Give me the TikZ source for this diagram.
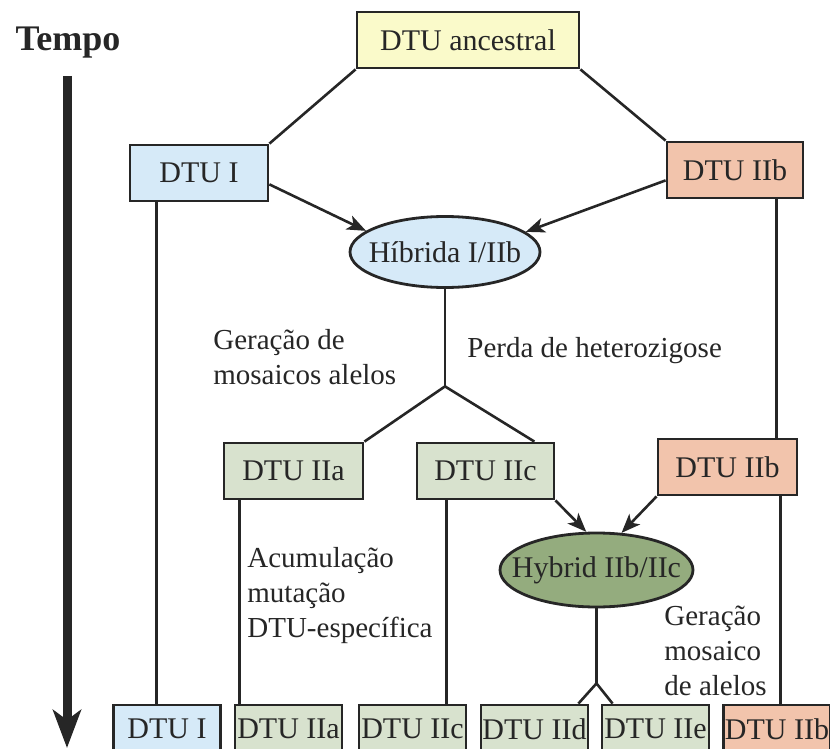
\documentclass[tikz,border=0pt]{standalone}
\usepackage{fontspec}
\setmainfont{Liberation Serif}
\usetikzlibrary{arrows.meta}
\usetikzlibrary{shapes.geometric}

\definecolor{ancyellow}{RGB}{250,250,202}
\definecolor{dtublue}{RGB}{214,234,248}
\definecolor{dtusalmon}{RGB}{242,196,172}
\definecolor{dtugreen}{RGB}{216,226,206}
\definecolor{hybgreen}{RGB}{148,172,126}
\definecolor{inkgray}{RGB}{38,38,38}

\tikzset{
  dtubox/.style={draw=inkgray, line width=1.4pt, inner sep=0pt, minimum height=28pt,
    text=inkgray, font=\fontsize{15}{18}\selectfont},
  hybnode/.style={ellipse, draw=inkgray, line width=1.4pt, inner ysep=0pt, inner xsep=-12pt,
    text=inkgray, font=\fontsize{15}{18}\selectfont},
  link/.style={draw=inkgray, line width=1.3pt},
  note/.style={align=left, inner sep=0pt, text=inkgray, font=\fontsize{14.5}{17.5}\selectfont},
}

\begin{document}
\begin{tikzpicture}[x=0.5pt, y=-0.5pt, >={Stealth[length=9.5pt, width=7.5pt, inset=2.5pt]}]
    \useasboundingbox (0,0) rectangle (830,749);

    % time axis
    \node[text=inkgray, font=\bfseries\fontsize{18}{20}\selectfont] (tempo) at (68,43) {Tempo};
    \coordinate (tStart) at (67,76);
    \coordinate (tEnd) at (67,748);
    \draw[inkgray, line width=4.5pt, -{Stealth[length=19pt, width=14pt, inset=5pt]}] (tStart) -- (tEnd);

    % first generation
    \node[dtubox, fill=ancyellow, minimum width=111pt] (anc) at (468,40) {DTU ancestral};
    \node[dtubox, fill=dtublue, minimum width=69pt] (dtuI) at (199,173) {DTU I};
    \node[dtubox, fill=dtusalmon, minimum width=68pt] (dtuIIb) at (735,170) {DTU IIb};
    \node[hybnode, fill=dtublue, minimum width=95pt, minimum height=35.5pt] (hib) at (445,252) {Híbrida I/IIb};

    % second generation
    \node[dtubox, fill=dtugreen, minimum width=69.5pt] (dtuIIa) at (293.5,471) {DTU IIa};
    \node[dtubox, fill=dtugreen, minimum width=68.5pt] (dtuIIc) at (485.5,471) {DTU IIc};
    \node[dtubox, fill=dtusalmon, minimum width=69.5pt] (dtuIIbm) at (727.5,467) {DTU IIb};
    \node[hybnode, fill=hybgreen, minimum width=96.5pt, minimum height=37pt] (hyb) at (596.5,570) {Hybrid IIb/IIc};

    % present-day DTUs
    \foreach \nm/\cx/\lab/\col in {endI/167/DTU I/dtublue, endIIa/288.5/DTU IIa/dtugreen,
        endIIc/412.5/DTU IIc/dtugreen, endIId/534.5/DTU IId/dtugreen,
        endIIe/655.5/DTU IIe/dtugreen, endIIb/777/DTU IIb/dtusalmon}
      \node[dtubox, fill=\col, minimum width=53.5pt, minimum height=24pt] (\nm) at (\cx,729) {\lab};

    % labels
    \node[note, anchor=west] (lblMos) at (213,357) {Geração de\\mosaicos alelos};
    \node[note, anchor=west] (lblPerda) at (467,351) {Perda de heterozigose};
    \node[note, anchor=west] (lblAcum) at (247,596) {Acumulação\\mutação\\DTU-específica};
    \node[note, anchor=west] (lblMosb) at (664,651) {Geração\\mosaico\\de alelos};

    % links
    \draw[link] (anc.south west) -- (dtuI.north east);
    \draw[link] (anc.south east) -- (dtuIIb.north west);
    \draw[link, ->] ([yshift=9pt]dtuI.south east) -- (hib.165);
    \draw[link, ->] ([yshift=9.5pt]dtuIIb.south west) -- (hib.14);

    \coordinate (split1) at ([yshift=-48.75pt]hib.south);
    \draw[link] (hib.south) -- (split1);
    \draw[link] (dtuIIa.north east) -- (split1) -- ([xshift=-10.5pt]dtuIIc.north east);

    \draw[link, ->] (dtuIIc.south east) -- (hyb.105);
    \draw[link, ->] (dtuIIbm.south west) -- (hyb.56);
    \coordinate (split2) at ([yshift=-37.5pt]hyb.south);
    \draw[link] (hyb.south) -- (split2);
    \draw[link] ([xshift=-5.5pt]endIId.north east) -- (split2) -- ([xshift=6pt]endIIe.north west);

    % lineages running down
    \coordinate (lineI) at ([xshift=14pt]dtuI.south west);
    \draw[link] (lineI) -- (lineI |- endI.north);
    \coordinate (lineIIa) at ([xshift=8.5pt]dtuIIa.south west);
    \draw[link] (lineIIa) -- (lineIIa |- endIIa.north);
    \coordinate (lineIIc) at ([xshift=15.5pt]dtuIIc.south west);
    \draw[link] (lineIIc) -- (lineIIc |- endIIc.north);
    \coordinate (lineIIb) at ([xshift=-14pt]dtuIIb.south east);
    \draw[link] (lineIIb) -- (lineIIb |- dtuIIbm.north);
    \coordinate (lineIIbm) at ([xshift=-9pt]dtuIIbm.south east);
    \draw[link] (lineIIbm) -- (lineIIbm |- endIIb.north);
\end{tikzpicture}
\end{document}
